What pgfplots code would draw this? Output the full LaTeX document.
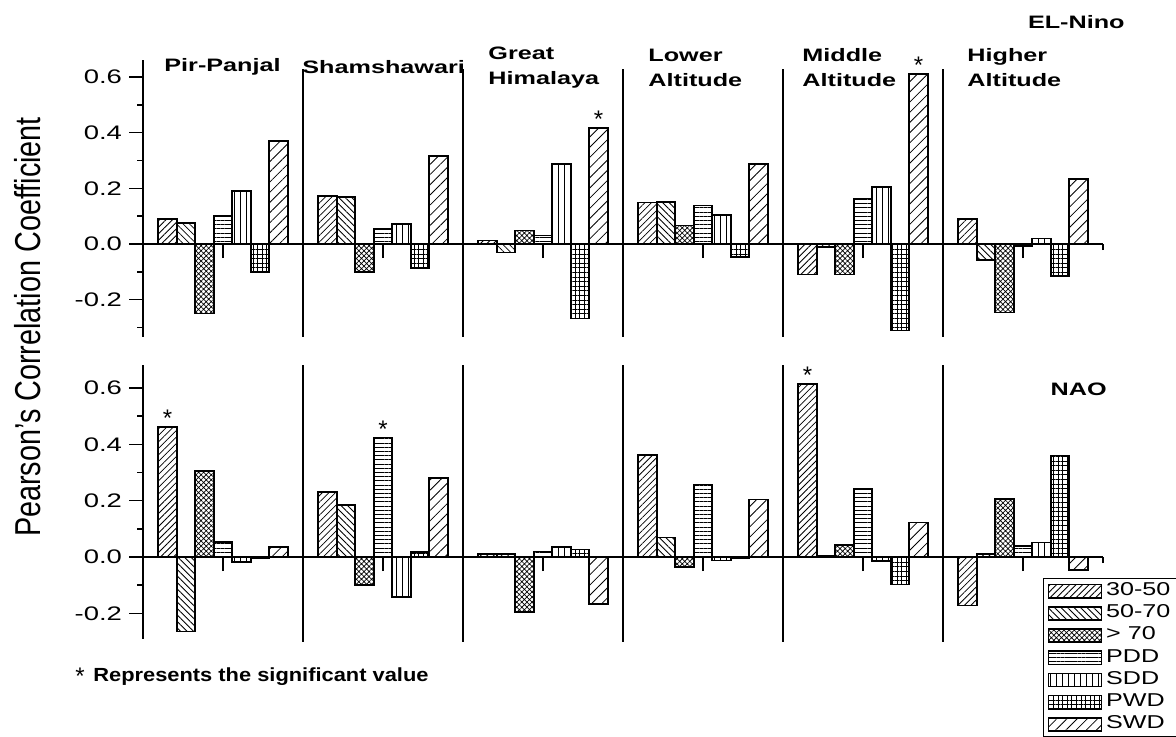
\documentclass[border=0pt]{standalone}
\usepackage{fontspec}
\setmainfont{Liberation Sans}
\usepackage{pgfplots}
\usepackage{pgfplotstable}
\pgfplotsset{compat=1.18}
\usetikzlibrary{patterns.meta}
\newcommand\hs[1]{\scalebox{1.4}[1]{#1}}
\newcommand\tf{\fontsize{9}{12.5}\selectfont\bfseries}
\newcommand\legtxt[1]{\scalebox{1.35}[1]{#1}}

\tikzset{
 p3050/.style={pattern={Lines[angle=45,distance=2.3pt,line width=0.4pt]}},
 p5070/.style={pattern={Lines[angle=-45,distance=2.3pt,line width=0.4pt]}},
 p70/.style={pattern={Hatch[angle=45,distance=1.8pt,line width=0.35pt]}},
 pPDD/.style={pattern={Lines[angle=0,distance=2.1pt,line width=0.35pt]}},
 pSDD/.style={pattern={Lines[angle=90,distance=3pt,line width=0.4pt]}},
 pPWD/.style={pattern={Hatch[angle=0,distance=2.3pt,line width=0.35pt]}},
 pSWD/.style={pattern={Lines[angle=45,distance=3.6pt,line width=0.4pt]}},
}
\pgfplotsset{
 myleg/.style={legend image code/.code={\draw[##1] (0pt,-3.3pt) rectangle (26.5pt,3.3pt);}},
 panel/.style={
  scale only axis, width=480pt, xmin=0, xmax=6,
  axis x line=middle, axis y line=left,
  x axis line style={-}, y axis line style={-},
  axis line style={line width=0.8pt},
  xtick={0.5,1.5,2.5,3.5,4.5,5.5}, xticklabels={},
  minor xtick={0,1,2,3,4,5,6},
  ytick={-0.2,0,0.2,0.4,0.6}, minor ytick={-0.3,-0.1,0.1,0.3,0.5},
  tick align=outside, major tick length=7pt, minor tick length=3pt,
  tick style={black, line width=0.8pt},
  yticklabel={\hs{\pgfmathprintnumber{\tick}}},
  yticklabel style={font=\fontsize{9.8}{10}\selectfont,
    /pgf/number format/.cd, fixed, fixed zerofill, precision=1, assume math mode=true},
  ybar=0pt, bar width=9.25pt,
  clip=false,
 },
 every axis plot/.append style={draw=black, line width=0.8pt},
}

% columns: a=30-50, b=50-70, c=>70, d=PDD, e=SDD, f=PWD, g=SWD
\pgfplotstableread{
x   a      b      c      d      e      f      g
0.5 0.09   0.075  -0.25  0.10   0.19   -0.10  0.37
1.5 0.173  0.168  -0.10  0.053  0.072  -0.087 0.317
2.5 0.012  -0.03  0.048  0.031  0.287  -0.267 0.416
3.5 0.149  0.152  0.066  0.139  0.104  -0.046 0.287
4.5 -0.11  -0.01  -0.11  0.164  0.204  -0.31  0.61
5.5 0.09   -0.058 -0.246 -0.008 0.02   -0.115 0.234
}\elnino
\pgfplotstableread{
x   a      b      c      d      e      f      g
0.5 0.461  -0.265 0.305  0.054  -0.017 -0.005 0.035
1.5 0.23   0.184  -0.10  0.424  -0.142 0.017  0.28
2.5 0.01   0.01   -0.195 0.019  0.035  0.027  -0.167
3.5 0.362  0.069  -0.035 0.257  -0.012 -0.004 0.204
4.5 0.614  0.003  0.043  0.241  -0.015 -0.097 0.123
5.5 -0.172 0.01   0.206  0.04   0.051  0.36   -0.046
}\nao

\begin{document}
\begin{tikzpicture}
% ---------- top panel (EL-Nino) ----------
\begin{axis}[panel, at={(71.5pt,-168.5pt)}, anchor=south west,
  height=138.5pt, ymin=-0.334, ymax=0.661]
\addplot[p3050, myleg] table[x=x,y=a]{\elnino};
\addplot[p5070, myleg] table[x=x,y=b]{\elnino};
\addplot[p70,   myleg] table[x=x,y=c]{\elnino};
\addplot[pPDD,  myleg] table[x=x,y=d]{\elnino};
\addplot[pSDD,  myleg] table[x=x,y=e]{\elnino};
\addplot[pPWD,  myleg] table[x=x,y=f]{\elnino};
\addplot[pSWD,  myleg] table[x=x,y=g]{\elnino};
\pgfplotsinvokeforeach{1,...,5}{\draw[line width=0.8pt] (axis cs:#1,-0.334) -- (axis cs:#1,0.63);}
\node[anchor=south, inner sep=0pt, font=\fontsize{12}{12}\selectfont] at (axis cs:2.847,0.416) {*};
\node[anchor=south, inner sep=0pt, font=\fontsize{12}{12}\selectfont] at (axis cs:4.847,0.61) {*};
\end{axis}
% ---------- bottom panel (NAO) ----------
\begin{axis}[panel, at={(71.5pt,-319.35pt)}, anchor=south west,
  height=137.05pt, ymin=-0.29, ymax=0.683,
  legend style={at={(0.9375,0.222)}, anchor=north west, draw=black, line width=0.6pt,
    font=\fontsize{9.3}{9.3}\selectfont, row sep=0pt, inner xsep=2pt, inner ysep=0.8pt,
    nodes={text height=6.4pt, text depth=2pt, inner ysep=1.35pt, inner xsep=2pt}},
  legend cell align=left]
\addplot[p3050, myleg] table[x=x,y=a]{\nao};
\addplot[p5070, myleg] table[x=x,y=b]{\nao};
\addplot[p70,   myleg] table[x=x,y=c]{\nao};
\addplot[pPDD,  myleg] table[x=x,y=d]{\nao};
\addplot[pSDD,  myleg] table[x=x,y=e]{\nao};
\addplot[pPWD,  myleg] table[x=x,y=f]{\nao};
\addplot[pSWD,  myleg] table[x=x,y=g]{\nao};
\legend{\legtxt{30-50},\legtxt{50-70},\legtxt{> 70},\legtxt{PDD},\legtxt{SDD},\legtxt{PWD},\legtxt{SWD}}
\pgfplotsinvokeforeach{1,...,5}{\draw[line width=0.8pt] (axis cs:#1,-0.30) -- (axis cs:#1,0.683);}
\node[anchor=south, inner sep=0pt, font=\fontsize{12}{12}\selectfont] at (axis cs:0.153,0.461) {*};
\node[anchor=south, inner sep=0pt, font=\fontsize{12}{12}\selectfont] at (axis cs:1.5,0.424) {*};
\node[anchor=south, inner sep=0pt, font=\fontsize{12}{12}\selectfont] at (axis cs:4.153,0.614) {*};
\end{axis}
% ---------- texts ----------
\node[anchor=west, inner sep=0pt, font=\tf] at (82pt,-33.5pt) {\hs{Pir-Panjal}};
\node[anchor=west, inner sep=0pt, font=\tf] at (151pt,-33.5pt) {\hs{Shamshawari}};
\node[anchor=west, inner sep=0pt, font=\tf, align=left] at (244pt,-33.75pt) {\hs{Great}\\\hs{Himalaya}};
\node[anchor=west, inner sep=0pt, font=\tf, align=left] at (324pt,-33.75pt) {\hs{Lower}\\\hs{Altitude}};
\node[anchor=west, inner sep=0pt, font=\tf, align=left] at (401pt,-33.75pt) {\hs{Middle}\\\hs{Altitude}};
\node[anchor=west, inner sep=0pt, font=\tf, align=left] at (483.5pt,-33.75pt) {\hs{Higher}\\\hs{Altitude}};
\node[anchor=east, inner sep=0pt, font=\tf] at (562.5pt,-11pt) {\hs{EL-Nino}};
\node[anchor=east, inner sep=0pt, font=\tf] at (553.5pt,-194.5pt) {\hs{NAO}};
\node[rotate=90, inner sep=0pt] at (13.75pt,-163.5pt) {\scalebox{0.8}[1]{\fontsize{18}{18}\selectfont Pearson's Correlation Coefficient}};
\node[inner sep=0pt, font=\fontsize{12}{12}\selectfont] at (40pt,-338pt) {*};
\node[anchor=west, inner sep=0pt, font=\fontsize{9.5}{10}\selectfont\bfseries] at (46.5pt,-338.5pt) {\scalebox{1.15}[1]{Represents the significant value}};
\pgfresetboundingbox
\path[use as bounding box] (0pt,0pt) rectangle (588pt,-368.5pt);
\end{tikzpicture}
\end{document}
